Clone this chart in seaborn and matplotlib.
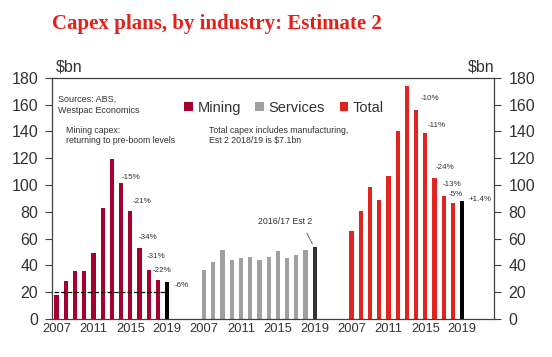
import numpy as np
import pandas as pd
import seaborn as sns
import matplotlib.pyplot as plt
from matplotlib.patches import Patch

# =============================================================================
# #Data ($bn, financial years)
# =============================================================================
years = [2007, 2008, 2009, 2010, 2011, 2012, 2013, 2014, 2015, 2016, 2017, 2018, 2019]
mining = [18.1, 28.0, 36.0, 35.5, 49.3, 83.0, 119.3, 101.4, 80.6, 53.0, 36.7, 28.8, 27.3]
services = [36.7, 42.2, 51.6, 44.1, 45.6, 46.4, 44.1, 46.4, 50.8, 45.6, 47.9, 51.6, 53.6]
total = [65.7, 80.6, 98.4, 88.8, 106.6, 140.1, 173.6, 155.7, 138.6, 105.1, 91.7, 86.5, 88.0]
tick_years = ['2007', '2011', '2015', '2019']
mining_changes = ['-15%', '-21%', '-34%', '-31%', '-22%', '-6%']
total_changes = ['-10%', '-11%', '-24%', '-13%', '-5%', '+1.4%']
pre_boom_level = 20

groups = ['Mining', 'Services', 'Total']
colours = {'Mining': '#A50030', 'Services': '#A0A0A0', 'Total': '#E0251E',
           'Mining est': '#000000', 'Services est': '#333333', 'Total est': '#000000'}

# each group takes 16 slots: 13 years plus a 3 slot gap
rows = []
for g, (name, vals) in enumerate(zip(groups, [mining, services, total])):
    for i, (yr, v) in enumerate(zip(years, vals)):
        kind = name + ' est' if yr == years[-1] else name
        rows.append({'slot': g * 16 + i, 'value': v, 'kind': kind})
df = pd.DataFrame(rows)

# =============================================================================
# #Plot
# =============================================================================
sns.set_style('white')
plt.rcParams['font.family'] = ['Liberation Sans', 'DejaVu Sans']

fig = plt.figure(figsize=(5.52, 3.57), dpi=100)
ax = fig.add_axes([52 / 552, 1 - 319 / 357, 442.5 / 552, (319 - 77.7) / 357])

sns.barplot(data=df, x='slot', y='value', hue='kind', palette=colours,
            order=list(range(48)), dodge=False, width=0.46, legend=False,
            saturation=1, linewidth=0, ax=ax)

ax.set_xlim(-0.5, 47.5)
ax.set_ylim(0, 180)
ax.set_yticks(range(0, 181, 20))
ax.set_xlabel('')
ax.set_ylabel('')

major = [g * 16 + i for g in range(3) for i in (0, 4, 8, 12)]
ax.set_xticks(major)
ax.set_xticklabels(tick_years * 3)
ax.set_xticks(np.arange(-0.5, 48, 2), minor=True)
ax.tick_params(axis='x', which='major', length=0, labelsize=9.3, colors='#333333', pad=3)
ax.tick_params(axis='x', which='minor', length=4, width=0.8, color='#404040', direction='out')
ax.tick_params(axis='y', length=5, width=0.8, color='#404040', direction='out',
               labelsize=11.5, labelcolor='#333333', left=True, right=True,
               labelleft=True, labelright=True, pad=5)

for s in ax.spines.values():
    s.set_visible(True)
    s.set_color('#404040')
    s.set_linewidth(0.9)

# pre-boom level
ax.plot([-0.3, 11.85], [pre_boom_level, pre_boom_level], ls='--', color='black', lw=0.9)

# annotations
ann_kw = dict(fontsize=5.8, color='#333333', va='center', ha='left')
mining_pos = [(7.1, 105.9), (8.2, 87.3), (8.95, 60.5), (9.8, 46.4), (10.45, 35.9), (12.85, 24.8)]
for txt, (x, y) in zip(mining_changes, mining_pos):
    ax.text(x, y, txt, **ann_kw)
total_pos = [(39.5, 164.4), (40.25, 144.6), (41.15, 113.1), (41.9, 100.4), (42.5, 92.5), (44.75, 88.8)]
for txt, (x, y) in zip(total_changes, total_pos):
    ax.text(x, y, txt, **ann_kw)

ax.text(24.8, 73.1, '2016/17 Est 2', fontsize=6.3, color='#333333', ha='center', va='center')
ax.plot([27.15, 27.75], [64, 56], color='#555555', lw=0.6)

ax.text(0.2, 167, 'Sources: ABS,\nWestpac Economics', fontsize=6.5, color='#333333',
        va='top', ha='left', linespacing=1.2)
ax.text(1.0, 144, 'Mining capex:\nreturning to pre-boom levels', fontsize=6.3,
        color='#333333', va='top', ha='left', linespacing=1.2)
ax.text(16.5, 144, 'Total capex includes manufacturing,\nEst 2 2018/19 is $7.1bn',
        fontsize=6.3, color='#333333', va='top', ha='left', linespacing=1.2)

handles = [Patch(facecolor=colours[g], edgecolor='none') for g in groups]
ax.legend(handles, groups, ncol=3, frameon=False, fontsize=10.5, loc='center',
          bbox_to_anchor=((284 - 52) / 442.5, (319 - 108) / 241.3),
          handlelength=0.6, handleheight=0.6, handletextpad=0.3, columnspacing=1.0,
          labelcolor='#333333')

fig.text(56 / 552, 1 - 67 / 357, '$bn', fontsize=11.5, color='#333333', va='center', ha='left')
fig.text(494 / 552, 1 - 67 / 357, '$bn', fontsize=11.5, color='#333333', va='center', ha='right')

fig.text(52 / 552, 1 - 24 / 357, 'Capex plans, by industry: Estimate 2', fontsize=15,
         fontweight='bold', family='Liberation Serif', color='#E3211B', va='center', ha='left')

fig.savefig('out.png', dpi=100)
